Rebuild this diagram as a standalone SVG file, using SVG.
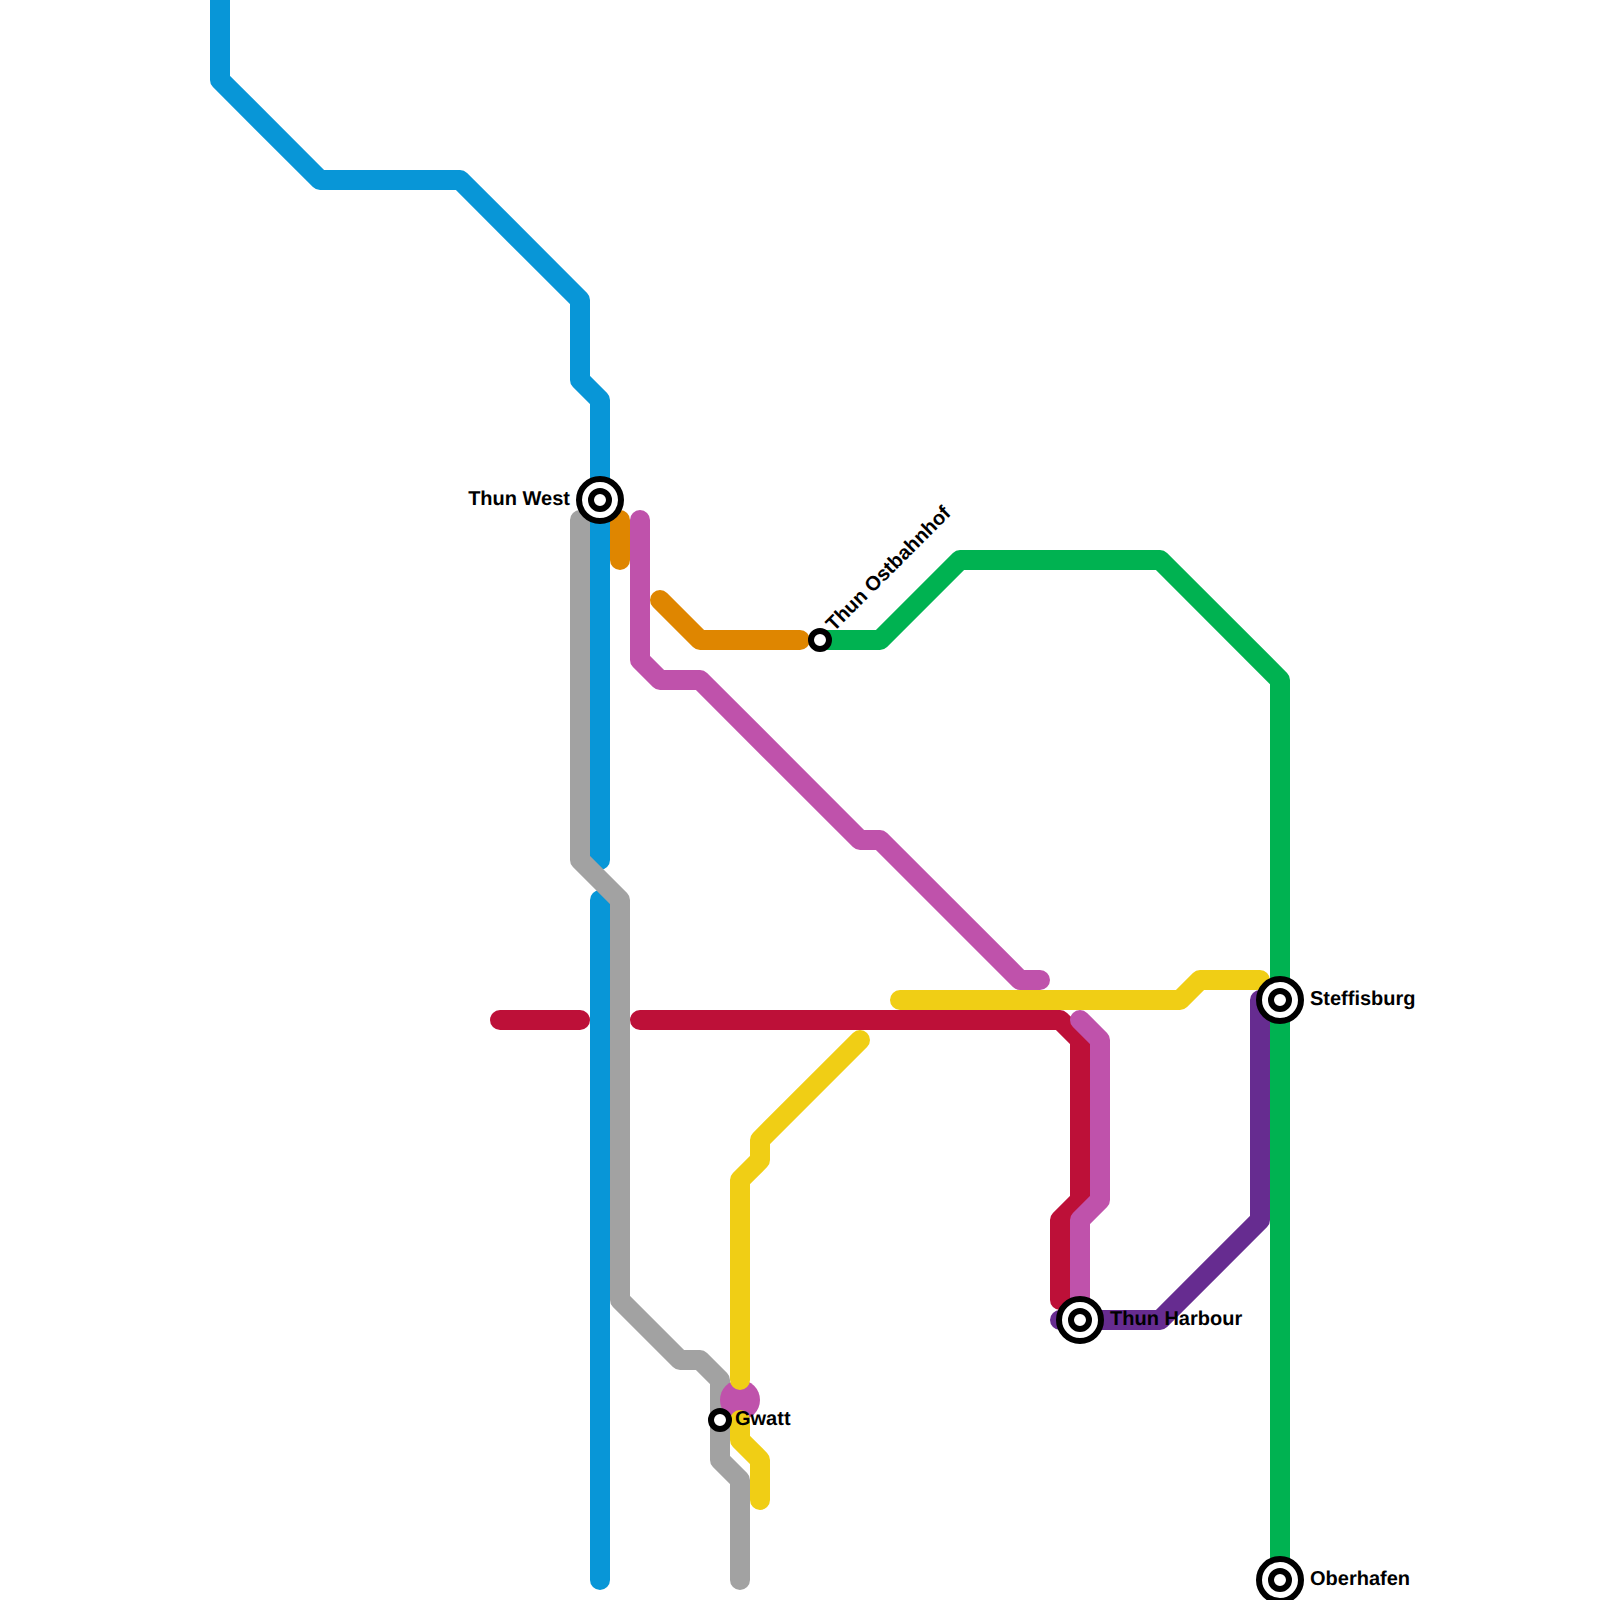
<svg xmlns="http://www.w3.org/2000/svg" width="1600" height="1600" viewBox="0 0 1600 1600">
<style>
.l{fill:none;stroke-width:20;stroke-linecap:round;stroke-linejoin:round}
.blue{stroke:#0896d7}.gray{stroke:#a2a2a2}.orange{stroke:#df8600}.pink{stroke:#bf52ab}.green{stroke:#00b251}.red{stroke:#bd1038}.yellow{stroke:#f0ce15}.purple{stroke:#662c90}
.ring{fill:#fff;stroke:#000;stroke-width:6}
text{font-family:"Liberation Sans",Arial,sans-serif;font-weight:700;font-size:20px;fill:#000;text-rendering:geometricPrecision}
</style>
<rect width="1600" height="1600" fill="#fff"/>
<g id="connectors">
<path class="l green" d="M820 640H880L960 560H1160L1280 680V1580"/>
<path class="l blue" d="M220 -20V80L320 180H460L580 300V380L600 400V860"/>
<path class="l blue" d="M600 900V1580"/>
<path class="l gray" d="M580 520V860L620 900V1300L680 1360H700L720 1380V1460L740 1480V1580"/>
<path class="l orange" d="M620 520V560"/>
<path class="l orange" d="M660 600L700 640H800"/>
<path class="l red" d="M500 1020H580"/>
<path class="l red" d="M640 1020H1060L1080 1040V1200L1060 1220V1300"/>
<path class="l purple" d="M1060 1320H1160L1260 1220V1000"/>
<path class="l pink" d="M640 520V660L660 680H700L860 840H880L1020 980H1040"/>
<path class="l pink" d="M1080 1020L1100 1040V1200L1080 1220V1320"/>
<circle cx="740" cy="1400" r="20" fill="#bf52ab"/>
<path class="l yellow" d="M900 1000H1180L1200 980H1260"/>
<path class="l yellow" d="M860 1040L760 1140V1160L740 1180V1380"/>
<path class="l yellow" d="M740 1420V1440L760 1460V1500"/>
</g>
<g id="thun-west"><circle class="ring" cx="600" cy="500" r="21"/><circle class="ring" cx="600" cy="500" r="9"/><text x="570" y="505" text-anchor="end">Thun West</text></g>
<g id="thun-ostbahnhof"><circle class="ring" cx="820" cy="640" r="9"/><text transform="translate(834 632) rotate(-45)">Thun Ostbahnhof</text></g>
<g id="steffisburg"><circle class="ring" cx="1280" cy="1000" r="21"/><circle class="ring" cx="1280" cy="1000" r="9"/><text x="1310" y="1005">Steffisburg</text></g>
<g id="thun-harbour"><circle class="ring" cx="1080" cy="1320" r="21"/><circle class="ring" cx="1080" cy="1320" r="9"/><text x="1110" y="1325">Thun Harbour</text></g>
<g id="oberhafen"><circle class="ring" cx="1280" cy="1580" r="21"/><circle class="ring" cx="1280" cy="1580" r="9"/><text x="1310" y="1585">Oberhafen</text></g>
<g id="gwatt"><circle class="ring" cx="720" cy="1420" r="9"/><text x="735" y="1425">Gwatt</text></g>
</svg>
